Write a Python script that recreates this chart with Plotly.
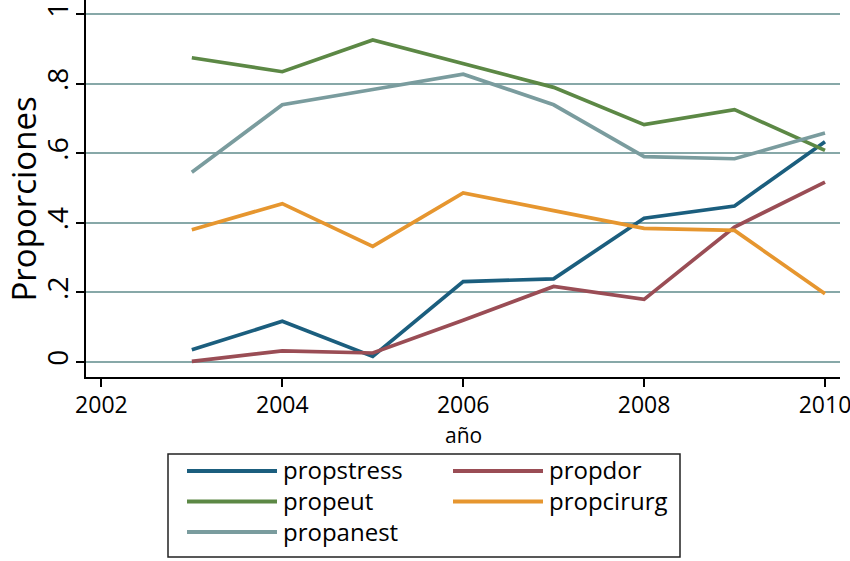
import plotly.graph_objects as go

years = [2003, 2004, 2005, 2006, 2007, 2008, 2009, 2010]
propstress = [0.035, 0.117, 0.016, 0.231, 0.239, 0.413, 0.448, 0.633]
propdor = [0.002, 0.032, 0.026, 0.120, 0.217, 0.180, 0.388, 0.517]
propeut = [0.874, 0.834, 0.925, 0.858, 0.789, 0.682, 0.725, 0.608]
propcirurg = [0.380, 0.455, 0.332, 0.486, 0.435, 0.384, 0.378, 0.196]
propanest = [0.545, 0.739, 0.783, 0.827, 0.739, 0.590, 0.584, 0.658]

series_names = ["propstress", "propdor", "propeut", "propcirurg", "propanest"]
series_values = [propstress, propdor, propeut, propcirurg, propanest]
series_colors = ["#1b5e7e", "#9a4d55", "#5c8845", "#e6962f", "#7a9c9e"]

ytick_vals = [0, 0.2, 0.4, 0.6, 0.8, 1]
ytick_text = ["0", ".2", ".4", ".6", ".8", "1"]
xtick_vals = [2002, 2004, 2006, 2008, 2010]

W, H = 850, 561
ML, MR, MT, MB = 86, 10, 0, 184
PW, PH = W - ML - MR, H - MT - MB


def px_x(p):
    return (p - ML) / PW


def px_y(p):
    return (MT + PH - p) / PH


fig = go.Figure()
for name, vals, col in zip(series_names, series_values, series_colors):
    fig.add_trace(go.Scatter(x=years, y=vals, mode="lines", name=name,
                             line=dict(color=col, width=3.7), showlegend=False))

# legend box drawn in Stata style (two columns, long keys)
shapes = [dict(type="rect", xref="paper", yref="paper",
               x0=px_x(168), x1=px_x(680), y0=px_y(557), y1=px_y(454),
               line=dict(color="#222222", width=1.5), fillcolor="rgba(0,0,0,0)")]
annotations = []
col_x = [187, 453]
row_y = [471, 501.5, 532]
for i, (name, col) in enumerate(zip(series_names, series_colors)):
    r, c = divmod(i, 2)
    x0 = col_x[c]
    y0 = row_y[r]
    shapes.append(dict(type="line", xref="paper", yref="paper",
                       x0=px_x(x0), x1=px_x(x0 + 90), y0=px_y(y0), y1=px_y(y0),
                       line=dict(color=col, width=4)))
    annotations.append(dict(text=name, xref="paper", yref="paper",
                            x=px_x(x0 + 95), y=px_y(y0 - 1), xanchor="left", yanchor="middle",
                            showarrow=False, borderpad=0, font=dict(size=24, color="black")))

annotations.append(dict(text="año", xref="paper", yref="paper", x=0.5, y=px_y(435),
                        xanchor="center", yanchor="middle", showarrow=False, borderpad=0,
                        font=dict(size=21, color="black")))
annotations.append(dict(text="Proporciones", xref="paper", yref="paper",
                        x=px_x(22.5), y=px_y(199), textangle=-90,
                        xanchor="center", yanchor="middle", showarrow=False, borderpad=0,
                        font=dict(size=33, color="black")))

fig.update_layout(
    width=W, height=H,
    margin=dict(l=ML, r=MR, t=MT, b=MB),
    paper_bgcolor="white", plot_bgcolor="white",
    font=dict(family="Open Sans, Noto Sans, sans-serif", color="black"),
    showlegend=False,
    shapes=shapes,
    annotations=annotations,
)

fig.update_xaxes(range=[2001.83, 2010.166], tickvals=xtick_vals,
                 ticks="outside", ticklen=8, tickwidth=2, tickcolor="black",
                 showline=True, linecolor="black", linewidth=2,
                 showgrid=False, zeroline=False, automargin=False,
                 ticklabeloverflow="allow", ticklabelstandoff=-2,
                 tickfont=dict(size=23))
fig.update_yaxes(range=[-0.043, 1.04], tickvals=ytick_vals, ticktext=ytick_text,
                 tickangle=-90, automargin=False, ticklabeloverflow="allow",
                 ticklabelstandoff=-3,
                 ticks="outside", ticklen=8, tickwidth=2, tickcolor="black",
                 showline=True, linecolor="black", linewidth=2,
                 showgrid=True, gridcolor="#87a8a8", gridwidth=1.5, zeroline=False,
                 tickfont=dict(size=28))

fig.write_html("out.html", config={"displayModeBar": False},
               post_script="document.body.style.margin='0';")
